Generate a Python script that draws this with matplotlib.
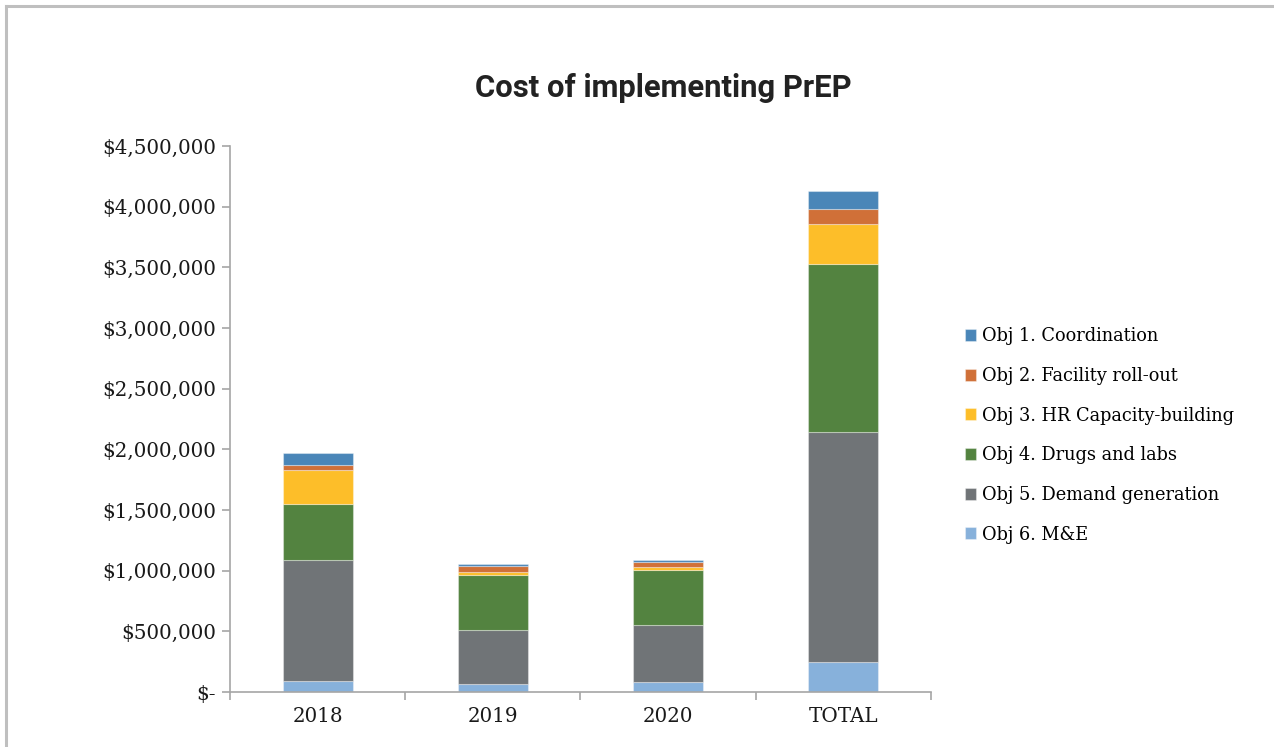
import numpy as np
import matplotlib.pyplot as plt
from matplotlib.ticker import FuncFormatter, FixedLocator
from matplotlib.lines import Line2D

categories = ['2018', '2019', '2020', 'TOTAL']

coordination = [99000, 20000, 22000, 145000]
facility = [41000, 46000, 41000, 124000]
hr_capacity = [283000, 28000, 22000, 335000]
drugs_labs = [461000, 456000, 458000, 1385000]
demand_gen = [992000, 445000, 467000, 1895000]
m_and_e = [93000, 63000, 82000, 245000]

labels = ['Obj 6. M&E', 'Obj 5. Demand generation', 'Obj 4. Drugs and labs',
          'Obj 3. HR Capacity-building', 'Obj 2. Facility roll-out', 'Obj 1. Coordination']
series = [m_and_e, demand_gen, drugs_labs, hr_capacity, facility, coordination]
colors = ['#87b1db', '#707477', '#538340', '#fdbe29', '#d07038', '#4a86b8']

fig = plt.figure(figsize=(12.74, 7.47), dpi=100)
ax = fig.add_axes([0.1805, 0.0736, 0.5503, 0.731])

x = np.arange(len(categories))
bottom = np.zeros(len(categories))
handles = []
for vals, lab, col in zip(series, labels, colors):
    b = ax.bar(x, vals, width=0.4, bottom=bottom, color=col, label=lab,
               edgecolor=(1, 1, 1, 0.35), linewidth=0.8)
    handles.append(b)
    bottom += np.array(vals)

ax.set_xlim(-0.5, 3.5)
ax.set_ylim(0, 4500000)
ax.set_yticks(np.arange(0, 4500001, 500000))

def money(v, pos):
    if v == 0:
        return '$-'
    return '${:,.0f}'.format(v)

ax.yaxis.set_major_formatter(FuncFormatter(money))
ax.set_xticks(x)
ax.set_xticklabels(categories)
ax.xaxis.set_minor_locator(FixedLocator(np.arange(-0.5, 3.6, 1)))
ax.tick_params(axis='x', which='major', length=0, pad=11)
ax.tick_params(axis='x', which='minor', length=6, color='#a6a6a6', width=1.2)
ax.tick_params(axis='y', length=6, color='#a6a6a6', width=1.2, pad=4)

for lbl in ax.get_xticklabels() + ax.get_yticklabels():
    lbl.set_fontfamily('DejaVu Serif')
    lbl.set_fontsize(14.3)
    lbl.set_color('#1a1a1a')

for s in ['top', 'right']:
    ax.spines[s].set_visible(False)
for s in ['left', 'bottom']:
    ax.spines[s].set_color('#a6a6a6')
    ax.spines[s].set_linewidth(1.2)

fig.text(0.5205, 0.882, 'Cost of implementing PrEP', ha='center', va='center',
         fontfamily='Roboto', fontweight='bold', fontsize=22.3, color='#222222')

leg = fig.legend(handles[::-1], labels[::-1], loc='upper left',
                 bbox_to_anchor=(0.7515, 0.5716), frameon=False,
                 prop={'family': 'DejaVu Serif', 'size': 12.8},
                 handlelength=0.65, handleheight=0.65, handletextpad=0.35,
                 labelspacing=1.22, borderaxespad=0)

# outer chart frame (partially visible)
fig.add_artist(Line2D([6 / 1274, 1], [1 - 6 / 747, 1 - 6 / 747], color='#bfbfbf', lw=2.2))
fig.add_artist(Line2D([6 / 1274, 6 / 1274], [0, 1 - 6 / 747], color='#bfbfbf', lw=2.2))

fig.savefig('out.png', dpi=100)
